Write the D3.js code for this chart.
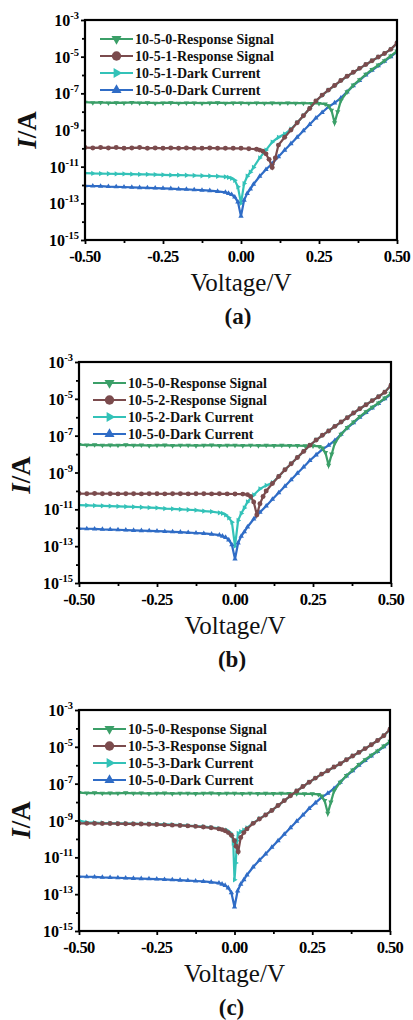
<!DOCTYPE html>
<html><head><meta charset="utf-8">
<script src="https://cdn.jsdelivr.net/npm/d3@7"></script>
<style>html,body{margin:0;padding:0;background:#fff}svg{display:block}</style>
</head><body><svg id="c" width="413" height="1020"></svg>
<script>
// ---------- DATA ----------
const panelLabels = ["(a)", "(b)", "(c)"];
const xTicks = [-0.5, -0.25, 0, 0.25, 0.5];
const xMinorTicks = [-0.375, -0.125, 0.125, 0.375];
const yTickExps = [-3, -5, -7, -9, -11, -13, -15];
const yMinorExps = [-4, -6, -8, -10, -12, -14];
const legendNames = [
  ["10-5-0-Response Signal", "10-5-1-Response Signal", "10-5-1-Dark Current", "10-5-0-Dark Current"],
  ["10-5-0-Response Signal", "10-5-2-Response Signal", "10-5-2-Dark Current", "10-5-0-Dark Current"],
  ["10-5-0-Response Signal", "10-5-3-Response Signal", "10-5-3-Dark Current", "10-5-0-Dark Current"]
];

// 10-5-0 Response Signal (green)
const v0Resp = [-0.5,-0.475,-0.45,-0.425,-0.4,-0.375,-0.35,-0.325,-0.3,-0.275,-0.25,-0.225,-0.2,-0.175,-0.15,-0.125,-0.1,-0.075,-0.05,-0.025,0,0.025,0.05,0.075,0.1,0.125,0.15,0.175,0.2,0.225,0.25,
  0.27,0.28,0.29,0.30,0.31,0.32,0.34,0.36,0.38,0.40,0.42,0.44,0.46,0.48,0.50];
const i0Resp = [3.3e-8,3.1e-8,3.2e-8,3.0e-8,3.1e-8,3.0e-8,3.2e-8,3.0e-8,3.1e-8,2.9e-8,3.0e-8,3.1e-8,2.9e-8,3.0e-8,3.0e-8,2.9e-8,3.0e-8,3.1e-8,2.9e-8,3.0e-8,3.0e-8,2.9e-8,3.0e-8,2.9e-8,3.0e-8,2.9e-8,3.0e-8,2.9e-8,2.9e-8,2.8e-8,2.8e-8,
  2.6e-8,2.1e-8,1.2e-8,2.5e-9,1.0e-8,4.0e-8,1.2e-7,2.8e-7,5.5e-7,1.1e-6,2.0e-6,3.5e-6,6.0e-6,1.1e-5,2.0e-5];

// 10-5-0 Dark Current (blue)
const v0Dark = [-0.5,-0.475,-0.45,-0.425,-0.4,-0.375,-0.35,-0.325,-0.3,-0.275,-0.25,-0.225,-0.2,-0.175,-0.15,-0.125,-0.1,-0.075,-0.05,
  -0.04,-0.03,-0.02,-0.01,0,0.01,0.02,0.03,0.04,
  0.06,0.08,0.10,0.12,0.14,0.16,0.18,0.20,0.22,0.24,0.26,0.28,0.30,0.32,0.34,0.36,0.38,0.40,0.42,0.44,0.46,0.48,0.50];
const i0Dark = [9e-13,8.8e-13,8.6e-13,8.2e-13,8e-13,7.8e-13,7.5e-13,7.2e-13,7e-13,6.8e-13,6.6e-13,6.3e-13,6e-13,5.8e-13,5.5e-13,5.2e-13,4.9e-13,4.5e-13,4e-13,
  3.5e-13,3e-13,2.2e-13,1.2e-13,2e-14,1.5e-13,3.5e-13,6e-13,1.1e-12,
  3e-12,7e-12,1.5e-11,3.5e-11,8e-11,1.8e-10,4e-10,9e-10,2e-9,4.5e-9,9e-9,1.8e-8,3e-8,5.5e-8,1.2e-7,2.6e-7,5e-7,1e-6,1.8e-6,3.2e-6,5.6e-6,1e-5,1.8e-5];

// 10-5-1 Response Signal (brown, panel a)
const v1Resp = [-0.5,-0.475,-0.45,-0.425,-0.4,-0.375,-0.35,-0.325,-0.3,-0.275,-0.25,-0.225,-0.2,-0.175,-0.15,-0.125,-0.1,-0.075,-0.05,-0.025,0,0.025,0.05,
  0.06,0.07,0.08,0.09,0.10,0.11,0.12,0.14,0.16,0.18,0.20,0.22,0.24,0.26,0.28,0.30,0.32,0.34,0.36,0.38,0.40,0.42,0.44,0.46,0.48,0.50];
const i1Resp = [1.1e-10,1.05e-10,1.1e-10,1.05e-10,1.1e-10,1.0e-10,1.05e-10,1.1e-10,1.0e-10,1.05e-10,1.0e-10,1.05e-10,1.0e-10,1.05e-10,1.0e-10,1.0e-10,1.05e-10,1.0e-10,1.0e-10,1.0e-10,1.0e-10,0.95e-10,0.9e-10,
  8e-11,7e-11,5e-11,2.5e-11,9e-12,3e-11,1.5e-10,4e-10,1e-9,2.5e-9,6e-9,1.5e-8,3.8e-8,8e-8,1.5e-7,2.7e-7,5e-7,8.5e-7,1.4e-6,2.3e-6,3.7e-6,6e-6,9.5e-6,1.5e-5,2.5e-5,5.5e-5];

// 10-5-1 Dark Current (cyan, panel a)
const v1Dark = [-0.5,-0.475,-0.45,-0.425,-0.4,-0.375,-0.35,-0.325,-0.3,-0.275,-0.25,-0.225,-0.2,-0.175,-0.15,-0.125,-0.1,-0.075,-0.05,
  -0.04,-0.03,-0.02,-0.01,0,0.01,0.02,0.03,0.04,0.06,0.08,0.10,0.12,0.14,0.16,0.18,0.20,
  0.22,0.24,0.26,0.28,0.30,0.32,0.34,0.36,0.38,0.40,0.42,0.44,0.46,0.48,0.50];
const i1Dark = [4.5e-12,4.3e-12,4.2e-12,4.1e-12,4e-12,4e-12,3.9e-12,3.8e-12,3.8e-12,3.7e-12,3.6e-12,3.5e-12,3.5e-12,3.4e-12,3.3e-12,3.2e-12,3.1e-12,3e-12,2.8e-12,
  2.6e-12,2.3e-12,1.8e-12,8e-13,1e-13,1.2e-12,3e-12,5e-12,9e-12,3e-11,8e-11,2.2e-10,4e-10,6e-10,1.1e-9,2.5e-9,6e-9,
  1.5e-8,3.7e-8,7.8e-8,1.5e-7,2.6e-7,4.9e-7,8.4e-7,1.4e-6,2.3e-6,3.7e-6,6e-6,9.5e-6,1.5e-5,2.5e-5,5.4e-5];

// 10-5-2 Response Signal (brown, panel b)
const v2Resp = [-0.5,-0.475,-0.45,-0.425,-0.4,-0.375,-0.35,-0.325,-0.3,-0.275,-0.25,-0.225,-0.2,-0.175,-0.15,-0.125,-0.1,-0.075,-0.05,-0.025,0,0.025,
  0.04,0.05,0.06,0.07,0.08,0.09,0.10,0.12,0.14,0.16,0.18,0.20,0.22,0.24,0.26,0.28,0.30,0.32,0.34,0.36,0.38,0.40,0.42,0.44,0.46,0.48,0.50];
const i2Resp = [7.2e-11,7e-11,7.3e-11,7e-11,7.1e-11,6.9e-11,7.1e-11,7e-11,6.9e-11,7.1e-11,7e-11,6.9e-11,7e-11,7.1e-11,6.9e-11,7e-11,7e-11,6.9e-11,7e-11,6.9e-11,6.8e-11,6.7e-11,
  6.3e-11,5e-11,2.5e-11,5e-12,2e-11,5e-11,1e-10,2.5e-10,6e-10,1.4e-9,3e-9,6.5e-9,1.4e-8,3e-8,5.8e-8,1.05e-7,1.8e-7,3.2e-7,5.5e-7,9.5e-7,1.7e-6,2.9e-6,4.8e-6,8e-6,1.3e-5,2.3e-5,5.5e-5];

// 10-5-2 Dark Current (cyan, panel b)
const v2Dark = [-0.5,-0.475,-0.45,-0.425,-0.4,-0.375,-0.35,-0.325,-0.3,-0.275,-0.25,-0.225,-0.2,-0.175,-0.15,-0.125,-0.1,-0.075,-0.05,
  -0.04,-0.03,-0.02,-0.01,0,0.01,0.02,0.03,0.04,0.06,0.08,0.10,
  0.12,0.14,0.16,0.18,0.20,0.22,0.24,0.26,0.28,0.30,0.32,0.34,0.36,0.38,0.40,0.42,0.44,0.46,0.48,0.50];
const i2Dark = [1.7e-11,1.65e-11,1.6e-11,1.55e-11,1.5e-11,1.45e-11,1.4e-11,1.35e-11,1.3e-11,1.25e-11,1.2e-11,1.1e-11,1.05e-11,1e-11,9.5e-12,9e-12,8e-12,7.5e-12,6.5e-12,
  6e-12,5e-12,3.5e-12,2e-12,1e-13,2.5e-12,6e-12,1.2e-11,2.5e-11,6e-11,1.3e-10,2e-10,
  2.8e-10,6e-10,1.4e-9,3e-9,6.5e-9,1.4e-8,3e-8,5.8e-8,1.05e-7,1.8e-7,3.2e-7,5.5e-7,9.5e-7,1.7e-6,2.9e-6,4.8e-6,8e-6,1.3e-5,2.3e-5,5.4e-5];

// 10-5-3 Response Signal (brown, panel c)
const v3Resp = [-0.5,-0.475,-0.45,-0.425,-0.4,-0.375,-0.35,-0.325,-0.3,-0.275,-0.25,-0.225,-0.2,-0.175,-0.15,-0.125,-0.1,-0.075,-0.05,
  -0.04,-0.03,-0.02,-0.01,0,0.005,0.012,0.02,0.03,0.04,
  0.06,0.08,0.10,0.12,0.14,0.16,0.18,0.20,0.22,0.24,0.26,0.28,0.30,0.32,0.34,0.36,0.38,0.40,0.42,0.44,0.46,0.48,0.50];
const i3Resp = [7e-10,7e-10,6.9e-10,6.8e-10,6.8e-10,6.7e-10,6.6e-10,6.5e-10,6.4e-10,6.2e-10,6e-10,5.8e-10,5.6e-10,5.4e-10,5.1e-10,4.8e-10,4.4e-10,4e-10,3.5e-10,
  3.2e-10,2.8e-10,2.2e-10,1.6e-10,8e-11,4e-11,2e-11,1.2e-10,2.2e-10,3.5e-10,
  7e-10,1.2e-9,2e-9,3.5e-9,6.5e-9,1.2e-8,2.2e-8,4e-8,7e-8,1.2e-7,2e-7,3.3e-7,5e-7,8e-7,1.2e-6,2e-6,3.2e-6,5e-6,8e-6,1.3e-5,2.2e-5,4e-5,9e-5];

// 10-5-3 Dark Current (cyan, panel c)
const v3Dark = [-0.5,-0.475,-0.45,-0.425,-0.4,-0.375,-0.35,-0.325,-0.3,-0.275,-0.25,-0.225,-0.2,-0.175,-0.15,-0.125,-0.1,-0.075,-0.05,-0.025,
  -0.015,-0.008,-0.004,0,0.004,0.008,0.012,0.02,0.03,0.04,
  0.06,0.08,0.10,0.12,0.14,0.16,0.18,0.20,0.22,0.24,0.26,0.28,0.30,0.32,0.34,0.36,0.38,0.40,0.42,0.44,0.46,0.48,0.50];
const i3Dark = [1e-9,8e-10,7.6e-10,7.3e-10,7.2e-10,7e-10,6.9e-10,6.8e-10,6.6e-10,6.5e-10,6.3e-10,6.1e-10,5.9e-10,5.6e-10,5.3e-10,5e-10,4.6e-10,4.2e-10,3.7e-10,3e-10,
  2.2e-10,1.5e-10,6e-11,6e-13,5e-12,8e-11,2e-10,2.5e-10,3e-10,4e-10,
  7.2e-10,1.25e-9,2e-9,3.5e-9,6.5e-9,1.2e-8,2.2e-8,4e-8,7e-8,1.2e-7,2e-7,3.3e-7,5e-7,8e-7,1.2e-6,2e-6,3.2e-6,5e-6,8e-6,1.3e-5,2.2e-5,4e-5,8.8e-5];

// ---------- STYLE / LAYOUT ----------
const COL = {green:"#3b9f68", brown:"#7b4b4d", cyan:"#33c2b8", blue:"#2f6cc6"};
const panels = [
  {left:85, right:397, top:20, bottom:240, legX:100, legY:[39,56,73,90], ylab:[27,130],
   resp:[v1Resp,i1Resp], dark:[v1Dark,i1Dark]},
  {left:79, right:391, top:362, bottom:583, legX:93, legY:[383,400,417,434], ylab:[21,475],
   resp:[v2Resp,i2Resp], dark:[v2Dark,i2Dark]},
  {left:79, right:390, top:710, bottom:931, legX:93, legY:[729,746,763,780], ylab:[21,820],
   resp:[v3Resp,i3Resp], dark:[v3Dark,i3Dark]}
];
const FONT = "'Liberation Serif','Times New Roman',serif";
const svg = d3.select("#c");

function marker(sel, type, size, color) {
  if (type === "circle") {
    sel.append("circle").attr("r", size*0.55).attr("fill", color);
  } else {
    const sym = d3.symbol().type(d3.symbolTriangle).size(size*size*0.6);
    const rot = type === "down" ? 180 : type === "right" ? 90 : 0;
    sel.append("path").attr("d", sym()).attr("transform", `rotate(${rot})`).attr("fill", color);
  }
}

panels.forEach((p, pi) => {
  const g = svg.append("g");
  const x = d3.scaleLinear().domain([-0.5, 0.5]).range([p.left, p.right]);
  const y = d3.scaleLog().domain([1e-15, 1e-3]).range([p.bottom, p.top]);

  const series = [
    {v:p.dark[0], i:p.dark[1], color:COL.cyan, m:"right"},
    {v:v0Dark, i:i0Dark, color:COL.blue, m:"up"},
    {v:v0Resp, i:i0Resp, color:COL.green, m:"down"},
    {v:p.resp[0], i:p.resp[1], color:COL.brown, m:"circle"}
  ];
  const clip = "clip" + pi;
  g.append("clipPath").attr("id", clip).append("rect")
    .attr("x", p.left).attr("y", p.top).attr("width", p.right - p.left).attr("height", p.bottom - p.top);
  const plot = g.append("g").attr("clip-path", `url(#${clip})`);
  const line = d3.line().x(d => x(d[0])).y(d => y(d[1]));
  series.forEach(s => {
    const pts = s.v.map((v, k) => [v, s.i[k]]);
    plot.append("path").datum(pts).attr("d", line).attr("fill", "none")
      .attr("stroke", s.color).attr("stroke-width", 2.2);
    pts.forEach(d => {
      const mg = plot.append("g").attr("transform", `translate(${x(d[0])},${y(d[1])})`);
      marker(mg, s.m, 4.5, s.color);
    });
  });

  // axes
  const yAxis = d3.axisLeft(y).tickValues(yTickExps.map(e => Math.pow(10, e))).tickSize(4).tickFormat("");
  const yMinor = d3.axisLeft(y).tickValues(yMinorExps.map(e => Math.pow(10, e))).tickSize(3).tickFormat("");
  const xAxis = d3.axisBottom(x).tickValues(xTicks).tickSize(4).tickFormat("");
  const xMinor = d3.axisBottom(x).tickValues(xMinorTicks).tickSize(3).tickFormat("");
  [[yAxis, `translate(${p.left},0)`], [yMinor, `translate(${p.left},0)`],
   [xAxis, `translate(0,${p.bottom})`], [xMinor, `translate(0,${p.bottom})`]].forEach(([ax, tr]) => {
    const a = g.append("g").attr("transform", tr).call(ax);
    a.select(".domain").remove();
    a.selectAll("line").attr("stroke", "#000").attr("stroke-width", 1.8);
  });
  g.append("rect").attr("x", p.left).attr("y", p.top).attr("width", p.right - p.left)
    .attr("height", p.bottom - p.top).attr("fill", "none").attr("stroke", "#000").attr("stroke-width", 2.2);

  // y tick labels
  yTickExps.forEach(e => {
    const t = g.append("text").attr("x", p.left - 6).attr("y", y(Math.pow(10, e)) + 6)
      .attr("text-anchor", "end").attr("font-family", FONT).attr("font-weight", "bold")
      .attr("font-size", 16).attr("fill", "#000");
    t.append("tspan").text("10");
    t.append("tspan").attr("dy", -7).attr("font-size", 10.5).text(String(e));
  });
  // x tick labels
  xTicks.forEach(v => {
    g.append("text").attr("x", x(v)).attr("y", p.bottom + 22).attr("text-anchor", "middle")
      .attr("font-family", FONT).attr("font-weight", "bold").attr("font-size", 16.5)
      .attr("letter-spacing", -0.6).attr("fill", "#000").text(d3.format(".2f")(v).replace("−", "-"));
  });
  // axis titles
  g.append("text").attr("x", (p.left + p.right) / 2).attr("y", p.bottom + 51).attr("text-anchor", "middle")
    .attr("font-family", FONT).attr("font-size", 25).attr("fill", "#111").text("Voltage/V");
  const yl = g.append("text").attr("transform", `translate(${p.ylab[0] + 9},${p.ylab[1]}) rotate(-90)`)
    .attr("text-anchor", "middle").attr("font-family", FONT).attr("font-weight", "bold")
    .attr("font-size", 27).attr("fill", "#111");
  yl.append("tspan").attr("font-style", "italic").text("I");
  yl.append("tspan").text("/A");
  g.append("text").attr("x", (p.left + p.right) / 2 - 3).attr("y", p.bottom + 84).attr("text-anchor", "middle")
    .attr("font-family", FONT).attr("font-weight", "bold").attr("font-size", 23).attr("fill", "#111")
    .text(panelLabels[pi]);

  // legend
  const legCols = [COL.green, COL.brown, COL.cyan, COL.blue];
  const legMarks = ["down", "circle", "right", "up"];
  legendNames[pi].forEach((name, k) => {
    const ly = p.legY[k];
    g.append("line").attr("x1", p.legX).attr("x2", p.legX + 33).attr("y1", ly).attr("y2", ly)
      .attr("stroke", legCols[k]).attr("stroke-width", 2.2);
    const mg = g.append("g").attr("transform", `translate(${p.legX + 16.5},${ly})`);
    marker(mg, legMarks[k], 8.5, legCols[k]);
    g.append("text").attr("x", p.legX + 35).attr("y", ly + 5).attr("font-family", FONT)
      .attr("font-weight", "bold").attr("font-size", 14).attr("fill", "#111").text(name);
  });
});
</script></body></html>
